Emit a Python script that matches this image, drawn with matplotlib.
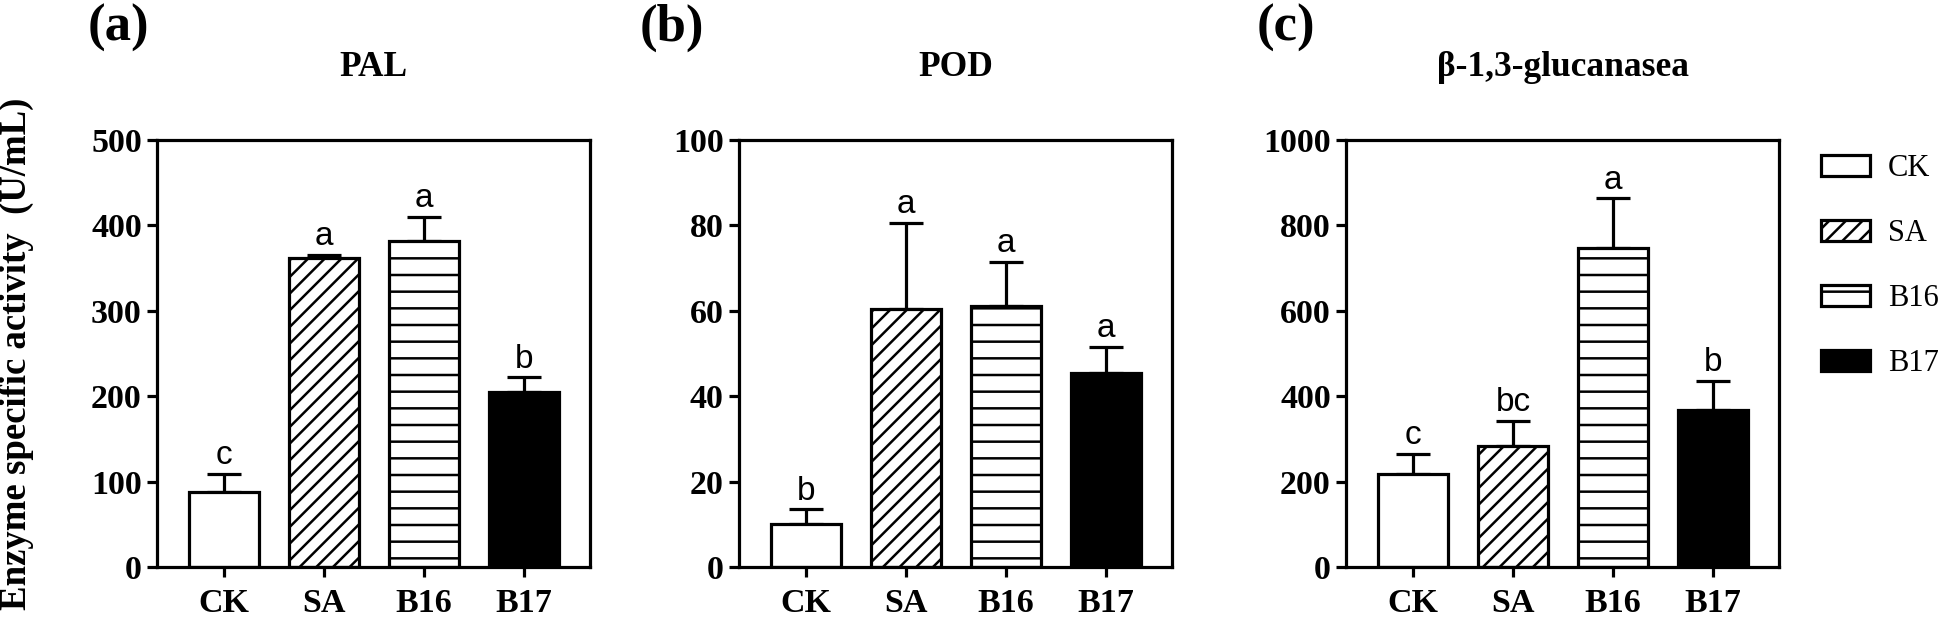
import numpy as np
import matplotlib
matplotlib.use("Agg")
import matplotlib.pyplot as plt

plt.rcParams["font.family"] = ["Liberation Serif", "DejaVu Serif"]
plt.rcParams["hatch.linewidth"] = 1.8
plt.rcParams["hatch.color"] = "black"

groups = ["CK", "SA", "B16", "B17"]
hatches = ["", "//", "-", ""]
fills = ["white", "white", "white", "black"]

titles = ["PAL", "POD", "β-1,3-glucanasea"]
panel_tags = ["(a)", "(b)", "(c)"]
ymax = [500, 100, 1000]
ystep = [100, 20, 200]

pal_mean = [88, 362, 382, 205]
pal_err = [21, 3, 28, 17]
pal_sig = ["c", "a", "a", "b"]

pod_mean = [10.0, 60.5, 61.2, 45.5]
pod_err = [3.5, 20.0, 10.3, 6.0]
pod_sig = ["b", "a", "a", "a"]

glu_mean = [218, 283, 748, 368]
glu_err = [47, 60, 115, 67]
glu_sig = ["c", "bc", "a", "b"]

means = [pal_mean, pod_mean, glu_mean]
errs = [pal_err, pod_err, glu_err]
sigs = [pal_sig, pod_sig, glu_sig]

fig = plt.figure(figsize=(19.46, 6.19), dpi=100)
lefts = [0.0807, 0.3798, 0.6917]
tag_x = [88, 640, 1257]
LW = 2.3

for i in range(3):
    ax = fig.add_axes([lefts[i], 0.084, 0.2225, 0.69])
    x = np.arange(len(groups))
    ax.errorbar(x, means[i], yerr=[np.zeros(4), errs[i]], fmt="none",
                ecolor="black", elinewidth=LW, capsize=12, capthick=LW, zorder=1)
    for j in range(4):
        ax.bar(x[j], means[i][j], width=0.7, color=fills[j], edgecolor="black",
               hatch=hatches[j], linewidth=LW, zorder=2, label=groups[j])
        ax.annotate(sigs[i][j], (x[j], means[i][j] + errs[i][j]),
                    xytext=(0, 7), textcoords="offset points", ha="center",
                    va="baseline", fontsize=24, family="Liberation Sans")
    ax.set_xlim(-0.67, 3.66)
    ax.set_ylim(0, ymax[i])
    ax.set_yticks(np.arange(0, ymax[i] + 1, ystep[i]))
    ax.set_xticks(x)
    ax.set_xticklabels(groups)
    for s in ax.spines.values():
        s.set_linewidth(LW)
    ax.tick_params(width=LW, length=7, labelsize=24.5)
    ax.tick_params(axis="x", pad=8)
    ax.tick_params(axis="y", pad=4)
    for lab in ax.get_xticklabels() + ax.get_yticklabels():
        lab.set_fontweight("bold")
    ax.set_title(titles[i], fontsize=25.5, fontweight="bold", pad=46)
    fig.text(tag_x[i] / 1946, 1 - 4 / 619, panel_tags[i], fontsize=38,
             fontweight="bold", ha="left", va="top")
    if i == 0:
        ax.set_ylabel("Enzyme specific activity  (U/mL)", fontsize=26.5,
                      fontweight="bold")
        ax.yaxis.set_label_coords(-0.285, 0.5)
    if i == 2:
        ax.legend(loc="upper left", bbox_to_anchor=(1.068, 0.995), frameon=False,
                  fontsize=22, handlelength=1.6, handleheight=0.7,
                  labelspacing=1.18, handletextpad=0.6, borderaxespad=0)

fig.savefig("out.png", dpi=100)
